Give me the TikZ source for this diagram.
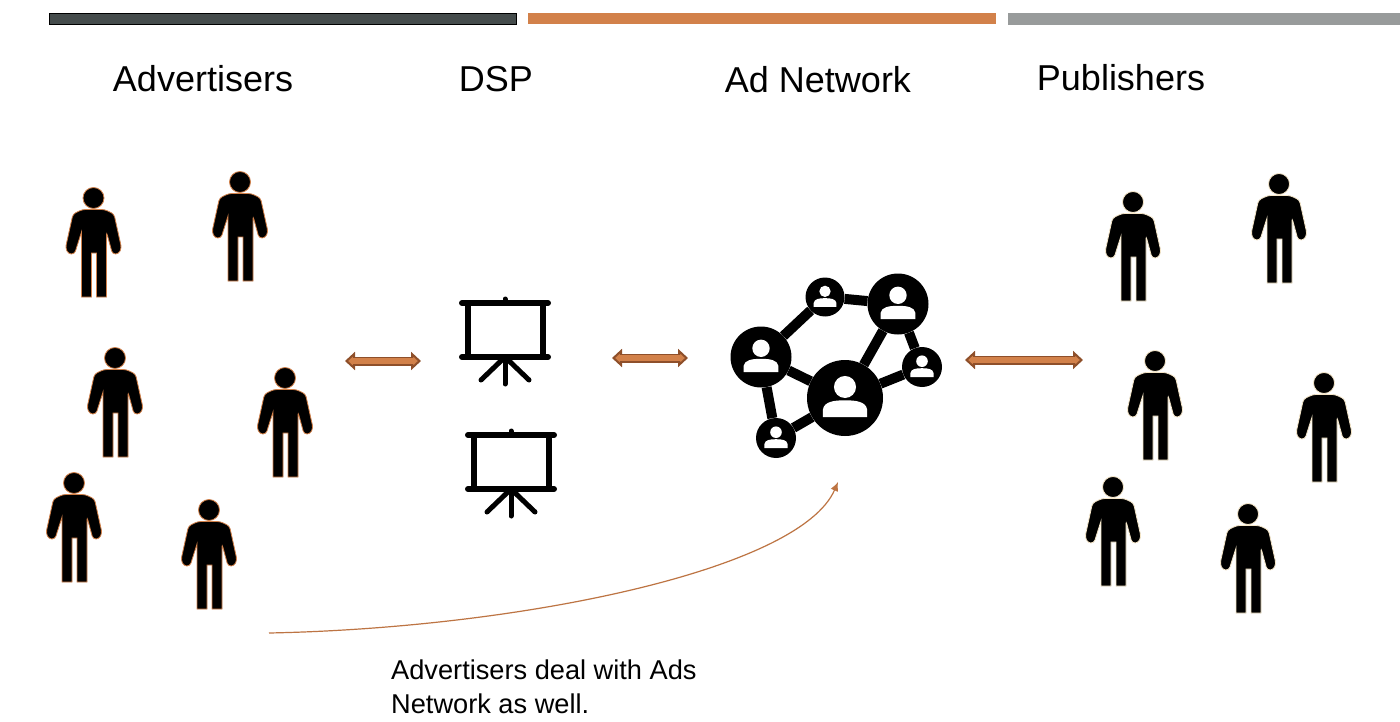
\documentclass[tikz,border=0pt]{standalone}
\usepackage{fontspec}
\setmainfont{Liberation Sans}
\usepackage{xcolor}
\usetikzlibrary{arrows.meta, calc}
\definecolor{linkfill}{HTML}{D2814A}
\definecolor{linkedge}{HTML}{8E4F2A}
\definecolor{bardark}{HTML}{454C4C}
\definecolor{bargray}{HTML}{989B9B}
\definecolor{peoplerim}{HTML}{F5E6C8}
\tikzset{
	heading/.style={font=\fontsize{36}{40}\selectfont, inner sep=0pt},
	note/.style={font=\fontsize{27.2}{34}\selectfont, inner sep=0pt, anchor=north west, align=left},
	linkouter/.style={draw=linkedge, line width=9pt, {Triangle[length=10pt,width=18pt,fill=linkfill,line width=2pt]}-{Triangle[length=10pt,width=18pt,fill=linkfill,line width=2pt]}},
	linkinner/.style={draw=linkfill, line width=5.5pt, shorten <=7pt, shorten >=7pt},
	hub/.style={circle, fill=black, inner sep=0pt, minimum size=#1},
	hublink/.style={draw=black, line width=10pt},
	person/.pic={
		\filldraw[black, draw=#1, line width=0.8pt] (0,0) circle (10.5);
		\filldraw[black, draw=#1, line width=0.8pt, rounded corners=3pt] (-11,11.5) -- (11,11.5) -- (20.5,16) -- (28,50) -- (25,56) -- (19,56) -- (13,34) [sharp corners] -- (13,99) -- (3,99) -- (3,55) -- (-2,55) -- (-2,99) -- (-12,99) -- (-12,34) [rounded corners=3pt] -- (-19,56) -- (-25,56) -- (-28,50) -- (-20.5,16) -- cycle;
	},
	screen/.pic={
		\draw[black, line width=6.5pt] (-37,-37) rectangle (38,17);
		\draw[black, line width=6pt, line cap=round] (-43,-37) -- (43,-37);
		\draw[black, line width=6pt, line cap=round] (-43,17) -- (43,17);
		\draw[black, line width=5pt, line cap=round] (0,-41) -- (0,-37);
		\draw[black, line width=5pt, line cap=round] (0,17) -- (0,44);
		\draw[black, line width=5pt, line cap=round] (0,17) -- (-24,40);
		\draw[black, line width=5pt, line cap=round] (0,17) -- (24,40);
	},
	usericon/.pic={
		\fill[white] (0,-.29*#1) circle (.29*#1);
		\fill[white] (-.58*#1,.5*#1) -- (-.58*#1,.3*#1) .. controls (-.55*#1,.1*#1) and (-.3*#1,.06*#1) .. (0,.06*#1) .. controls (.3*#1,.06*#1) and (.55*#1,.1*#1) .. (.58*#1,.3*#1) -- (.58*#1,.5*#1) -- cycle;
	}
}
\begin{document}
\begin{tikzpicture}[x=1pt, y=-1pt]
	\fill[white] (0,0) rectangle (1400,722);
	\useasboundingbox (0,0) rectangle (1400,722);
	% bars
	\filldraw[draw=black, fill=bardark, line width=0.6pt] (49,13.5) rectangle (516,24.5);
	\fill[linkfill] (528,13) rectangle (996,24);
	\fill[bargray] (1008,13) rectangle (1400,25);
	\node[heading] (advertisers) at (203,79) {Advertisers};
	\node[heading] (dsp) at (496,79) {DSP};
	\node[heading] (adnetwork) at (818,80) {Ad Network};
	\node[heading] (publishers) at (1121,78) {Publishers};
	% people
	\foreach \px/\py in {93.5/198, 240/182, 115/358, 285/378, 74/483, 209/510}
		\pic at (\px,\py) {person=linkfill};
	\foreach \px/\py in {1133/202, 1279/184, 1155/361, 1324/383, 1113/487, 1248/514}
		\pic at (\px,\py) {person=peoplerim};
	\pic at (505,340) {screen};
	\pic at (511,472) {screen};
	% network
	\node[hub=76pt] (netC) at (845,398) {};
	\node[hub=61pt] (netL) at (761,357) {};
	\node[hub=61pt] (netTR) at (898,304) {};
	\node[hub=39pt] (netT) at (825,297) {};
	\node[hub=40pt] (netR) at (922,367) {};
	\node[hub=40pt] (netB) at (776,438) {};
	\foreach \a/\b in {netL/netT, netT/netTR, netTR/netC, netTR/netR, netR/netC, netL/netC, netL/netB, netB/netC}
		\draw[hublink] (\a) -- (\b);
	\foreach \n/\rad in {netC/38, netL/30, netTR/30, netT/19.5, netR/20, netB/20}
		\pic at (\n) {usericon=\rad};
	% links
	\coordinate (linkAa) at (345,361);
	\coordinate (linkAb) at (421,361);
	\coordinate (linkBa) at (612,358);
	\coordinate (linkBb) at (688,358);
	\coordinate (linkCa) at (965,360);
	\coordinate (linkCb) at (1083,360);
	\foreach \a/\b in {linkAa/linkAb, linkBa/linkBb, linkCa/linkCb}{
		\draw[linkouter] (\a) -- (\b);
		\draw[linkinner] (\a) -- (\b);
	}
	\coordinate (dealstart) at (269,633);
	\coordinate (dealend) at (838,482);
	\draw[draw=linkfill!90!black, line width=1.2pt, -{Latex[length=9pt,width=8pt]}] (dealstart) .. controls (520,628) and (800,570) .. (dealend);
	\node[note] (dealnote) at (391,660) {Advertisers deal with Ads\\Network as well.};
\end{tikzpicture}
\end{document}
